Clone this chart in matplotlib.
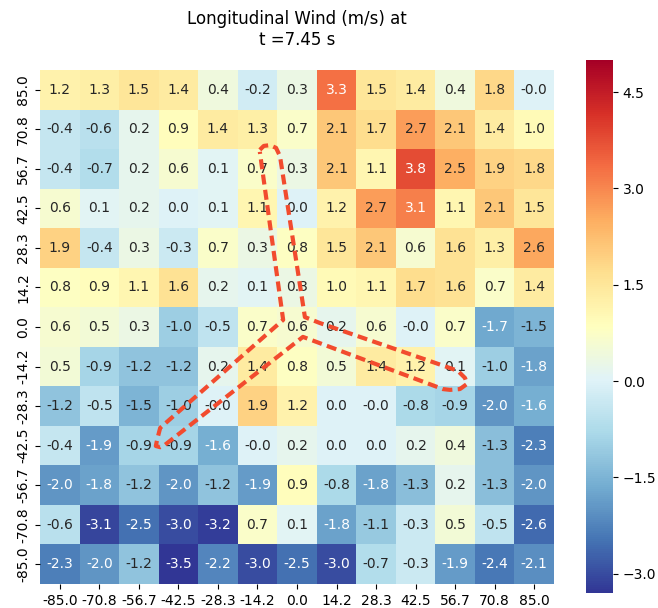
import numpy as np
import matplotlib
matplotlib.use("Agg")
import matplotlib.pyplot as plt
import seaborn as sns
from matplotlib.ticker import MultipleLocator

x_labels = ["-85.0", "-70.8", "-56.7", "-42.5", "-28.3", "-14.2", "0.0",
            "14.2", "28.3", "42.5", "56.7", "70.8", "85.0"]
y_labels = ["85.0", "70.8", "56.7", "42.5", "28.3", "14.2", "0.0",
            "-14.2", "-28.3", "-42.5", "-56.7", "-70.8", "-85.0"]

wind = [
    [1.2, 1.3, 1.5, 1.4, 0.4, -0.2, 0.3, 3.3, 1.5, 1.4, 0.4, 1.8, -0.0],
    [-0.4, -0.6, 0.2, 0.9, 1.4, 1.3, 0.7, 2.1, 1.7, 2.7, 2.1, 1.4, 1.0],
    [-0.4, -0.7, 0.2, 0.6, 0.1, 0.7, 0.3, 2.1, 1.1, 3.8, 2.5, 1.9, 1.8],
    [0.6, 0.1, 0.2, 0.0, 0.1, 1.1, 0.0, 1.2, 2.7, 3.1, 1.1, 2.1, 1.5],
    [1.9, -0.4, 0.3, -0.3, 0.7, 0.3, 0.8, 1.5, 2.1, 0.6, 1.6, 1.3, 2.6],
    [0.8, 0.9, 1.1, 1.6, 0.2, 0.1, 0.3, 1.0, 1.1, 1.7, 1.6, 0.7, 1.4],
    [0.6, 0.5, 0.3, -1.0, -0.5, 0.7, 0.6, 0.2, 0.6, -0.0, 0.7, -1.7, -1.5],
    [0.5, -0.9, -1.2, -1.2, 0.2, 1.4, 0.8, 0.5, 1.4, 1.2, 0.1, -1.0, -1.8],
    [-1.2, -0.5, -1.5, -1.0, -0.0, 1.9, 1.2, 0.0, -0.0, -0.8, -0.9, -2.0, -1.6],
    [-0.4, -1.9, -0.9, -0.9, -1.6, -0.0, 0.2, 0.0, 0.0, 0.2, 0.4, -1.3, -2.3],
    [-2.0, -1.8, -1.2, -2.0, -1.2, -1.9, 0.9, -0.8, -1.8, -1.3, 0.2, -1.3, -2.0],
    [-0.6, -3.1, -2.5, -3.0, -3.2, 0.7, 0.1, -1.8, -1.1, -0.3, 0.5, -0.5, -2.6],
    [-2.3, -2.0, -1.2, -3.5, -2.2, -3.0, -2.5, -3.0, -0.7, -0.3, -1.9, -2.4, -2.1],
]

# rotor outline overlay (in heatmap cell coordinates)
outline_x = [5.56, 5.66, 5.82, 5.97, 6.07, 6.70, 7.08, 10.29, 10.57, 10.75,
             10.80, 10.62, 10.37, 10.19, 6.65, 3.16, 3.04, 2.93, 2.96, 3.04,
             6.15, 5.56]
outline_y = [2.02, 1.92, 1.90, 1.97, 2.18, 6.25, 6.40, 7.51, 7.61, 7.79,
             7.94, 8.07, 8.09, 8.07, 6.75, 9.48, 9.54, 9.51, 9.36, 9.05,
             6.32, 2.07]

W, H = 658, 608
fig = plt.figure(figsize=(W / 100, H / 100), dpi=100)
ax = fig.add_axes([40 / W, (H - 584) / H, 514 / W, 514 / H])
cax = fig.add_axes([586 / W, (H - 593) / H, 27 / W, 533 / H])

sns.heatmap(np.array(wind), ax=ax, cbar_ax=cax, cmap="RdYlBu_r",
            vmin=-3.3, vmax=5.0, annot=True, fmt=".1f",
            annot_kws={"fontsize": 10},
            xticklabels=x_labels, yticklabels=y_labels, square=True)

ax.set_xticklabels(x_labels, rotation=0, fontsize=10)
ax.set_yticklabels(y_labels, rotation=90, va="center", fontsize=10)

ax.plot(outline_x, outline_y, color="#f24b2e", lw=3, linestyle="--",
        dashes=(2.4, 1.3), clip_on=False, zorder=5)

ax.set_title("Longitudinal Wind (m/s) at\nt =7.45 s", fontsize=12, pad=18)

cax.yaxis.set_major_locator(MultipleLocator(1.5))
cax.tick_params(labelsize=10)

fig.savefig("out.png", dpi=100)
